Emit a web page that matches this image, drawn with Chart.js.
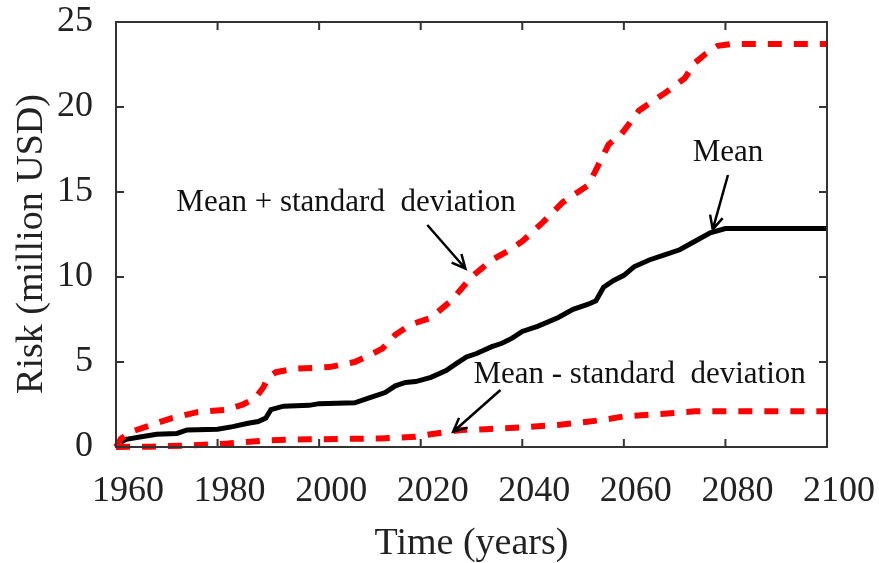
<!DOCTYPE html>
<html>
<head>
<meta charset="utf-8">
<script src="https://cdn.jsdelivr.net/npm/chart.js@4"></script>
<style>
  html, body { margin: 0; padding: 0; background: #fff; }
  #wrap { width: 879px; height: 563px; }
</style>
</head>
<body>
<div id="wrap"><canvas id="risk-chart"></canvas></div>
<script>
const meanYears = [1961, 1962, 1965, 1968, 1972, 1974, 1980, 1983, 1986, 1988, 1989.5, 1990.5, 1993, 1998, 2000, 2007, 2010, 2013, 2015, 2017, 2019, 2022, 2025, 2027, 2029, 2031, 2034, 2036, 2038, 2040, 2043, 2047, 2050, 2053, 2054.5, 2056, 2058, 2060, 2062, 2065, 2068, 2071, 2074, 2077, 2080, 2100];
const meanRisk = [0.3, 0.45, 0.6, 0.75, 0.8, 1.0, 1.05, 1.2, 1.4, 1.5, 1.7, 2.2, 2.4, 2.45, 2.55, 2.6, 2.9, 3.2, 3.6, 3.8, 3.85, 4.1, 4.5, 4.9, 5.3, 5.5, 5.9, 6.1, 6.4, 6.8, 7.1, 7.6, 8.1, 8.4, 8.6, 9.4, 9.8, 10.1, 10.6, 11.0, 11.3, 11.6, 12.1, 12.6, 12.85, 12.85];

const upperYears = [1960, 1961, 1963, 1966, 1971, 1976, 1982, 1985, 1987.5, 1989, 1990, 1991.5, 1995, 2002, 2007, 2010, 2012.5, 2015, 2018, 2022, 2026, 2030, 2034, 2037, 2040, 2044, 2048, 2053, 2055, 2057, 2059.5, 2063, 2068, 2072, 2074, 2076, 2078.5, 2081, 2100];
const upperRisk = [0, 0.5, 0.9, 1.2, 1.7, 2.05, 2.2, 2.5, 2.9, 3.5, 4.1, 4.4, 4.6, 4.7, 5.0, 5.4, 5.8, 6.6, 7.2, 7.6, 8.6, 10.0, 11.0, 11.5, 12.1, 13.2, 14.4, 15.4, 16.6, 17.8, 18.4, 19.8, 20.8, 21.7, 22.6, 23.1, 23.6, 23.7, 23.7];

const lowerYears = [1960, 1967, 1975, 1982, 1990, 1998, 2012, 2019, 2022, 2028, 2033, 2040, 2047, 2052, 2056, 2060, 2065, 2070, 2074, 2100];
const lowerRisk = [0, 0.02, 0.1, 0.2, 0.4, 0.45, 0.5, 0.6, 0.75, 1.0, 1.05, 1.15, 1.3, 1.45, 1.6, 1.8, 1.9, 2.0, 2.1, 2.1];

const xTicks = [1960, 1980, 2000, 2020, 2040, 2060, 2080, 2100];
const yTicks = [0, 5, 10, 15, 20, 25];

// label text, label anchor and arrow (from -> to), all in data units
const notes = [
  { text: 'Mean + standard  deviation', at: [2005.3, 14.35], from: [2021.3, 13.06], to: [2028.8, 10.5] },
  { text: 'Mean - standard  deviation', at: [2063.1, 4.24], from: [2035.7, 3.35], to: [2026.4, 0.9] },
  { text: 'Mean', at: [2080.5, 17.3], from: [2080.5, 16.0], to: [2077.5, 12.8] },
];

const serif = "'Liberation Serif', 'Times New Roman', serif";

function toPoints(xs, ys) {
  return xs.map((x, i) => ({ x: x, y: ys[i] }));
}

const framePlugin = {
  id: 'frame',
  afterDatasetsDraw(chart) {
    const { ctx, chartArea: a, scales } = chart;
    ctx.save();
    ctx.strokeStyle = '#333';
    ctx.lineWidth = 2;
    ctx.strokeRect(a.left, a.top, a.right - a.left, a.bottom - a.top);
    ctx.beginPath();
    xTicks.forEach(v => {
      const px = scales.x.getPixelForValue(v);
      ctx.moveTo(px, a.bottom); ctx.lineTo(px, a.bottom - 8);
      ctx.moveTo(px, a.top); ctx.lineTo(px, a.top + 8);
    });
    yTicks.forEach(v => {
      const py = scales.y.getPixelForValue(v);
      ctx.moveTo(a.left, py); ctx.lineTo(a.left + 8, py);
      ctx.moveTo(a.right, py); ctx.lineTo(a.right - 8, py);
    });
    ctx.stroke();

    // annotations
    ctx.fillStyle = '#111';
    ctx.strokeStyle = '#000';
    ctx.font = '31px ' + serif;
    ctx.textAlign = 'center';
    ctx.textBaseline = 'middle';
    notes.forEach(n => {
      const tx = scales.x.getPixelForValue(n.at[0]);
      const ty = scales.y.getPixelForValue(n.at[1]);
      ctx.fillText(n.text, tx, ty);
      const x1 = scales.x.getPixelForValue(n.from[0]);
      const y1 = scales.y.getPixelForValue(n.from[1]);
      const x2 = scales.x.getPixelForValue(n.to[0]);
      const y2 = scales.y.getPixelForValue(n.to[1]);
      const ang = Math.atan2(y2 - y1, x2 - x1);
      const head = 15;
      ctx.lineWidth = 2.5;
      ctx.beginPath();
      ctx.moveTo(x1, y1); ctx.lineTo(x2, y2);
      ctx.moveTo(x2 - head * Math.cos(ang - 0.45), y2 - head * Math.sin(ang - 0.45));
      ctx.lineTo(x2, y2);
      ctx.lineTo(x2 - head * Math.cos(ang + 0.45), y2 - head * Math.sin(ang + 0.45));
      ctx.stroke();
    });
    ctx.restore();
  }
};

new Chart(document.getElementById('risk-chart'), {
  type: 'line',
  data: {
    datasets: [
      {
        label: 'Mean + standard deviation',
        data: toPoints(upperYears, upperRisk),
        borderColor: '#ff0000',
        borderWidth: 6,
        borderDash: [14, 12],
        borderCapStyle: 'butt',
        pointRadius: 0,
        clip: 6,
      },
      {
        label: 'Mean',
        data: toPoints(meanYears, meanRisk),
        borderColor: '#000',
        borderWidth: 5,
        pointRadius: 0,
        clip: 6,
      },
      {
        label: 'Mean - standard deviation',
        data: toPoints(lowerYears, lowerRisk),
        borderColor: '#ff0000',
        borderWidth: 6,
        borderDash: [14, 12],
        borderCapStyle: 'butt',
        pointRadius: 0,
        clip: 6,
      },
    ],
  },
  options: {
    responsive: true,
    maintainAspectRatio: false,
    animation: false,
    layout: { padding: { top: 22, right: 52, left: 0, bottom: 0 } },
    plugins: {
      legend: { display: false },
      tooltip: { enabled: false },
    },
    scales: {
      x: {
        type: 'linear',
        min: 1960,
        max: 2100,
        grid: { display: false },
        border: { display: false },
        afterBuildTicks: s => { s.ticks = xTicks.map(v => ({ value: v })); },
        ticks: {
          color: '#222',
          font: { family: serif, size: 36 },
          padding: 15,
          labelOffset: 12,
          maxRotation: 0,
          callback: v => String(v),
        },
        title: {
          display: true,
          text: 'Time (years)',
          color: '#222',
          font: { family: serif, size: 38, lineHeight: 1.0 },
          padding: { top: 0, bottom: 0 },
        },
        afterFit: s => { s.height = 116; s.paddingLeft = 0; s.paddingRight = 0; },
      },
      y: {
        min: 0,
        max: 25,
        grid: { display: false },
        border: { display: false },
        afterBuildTicks: s => { s.ticks = yTicks.map(v => ({ value: v })); },
        ticks: {
          color: '#222',
          font: { family: serif, size: 36 },
          padding: 15,
        },
        title: {
          display: true,
          // trailing spaces nudge the rotated title down a little
          text: 'Risk (million USD)  ',
          color: '#222',
          font: { family: serif, size: 38, lineHeight: 1.0 },
          padding: { top: 13, bottom: 0 },
        },
        afterFit: s => { s.width = 116; s.paddingTop = 0; s.paddingBottom = 0; },
      },
    },
  },
  plugins: [framePlugin],
});
</script>
</body>
</html>
